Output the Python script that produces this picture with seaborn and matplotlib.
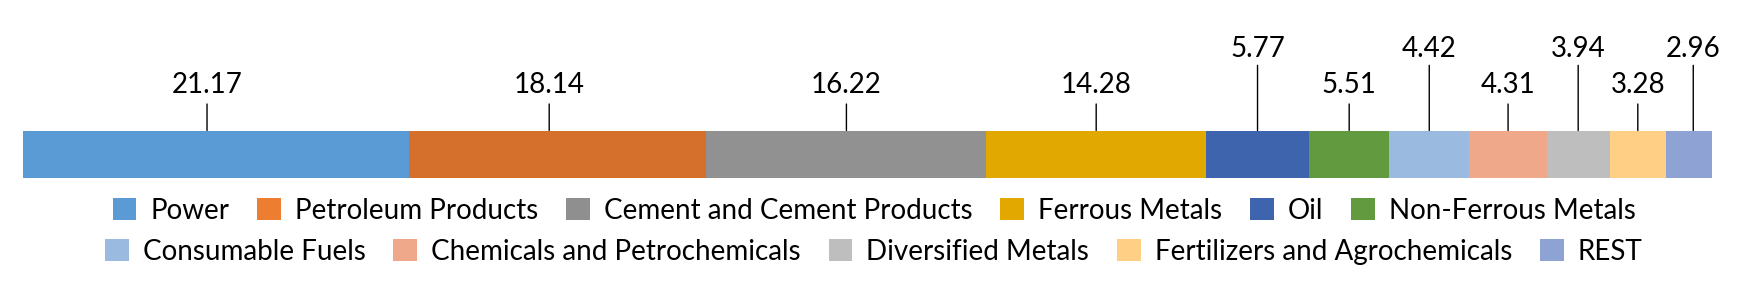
import matplotlib
matplotlib.use("Agg")
import matplotlib.pyplot as plt
from matplotlib.patches import Patch
import numpy as np
import pandas as pd
import seaborn as sns

# ---------------- data ----------------
sectors = ["Power", "Petroleum Products", "Cement and Cement Products", "Ferrous Metals",
           "Oil", "Non-Ferrous Metals", "Consumable Fuels", "Chemicals and Petrochemicals",
           "Diversified Metals", "Fertilizers and Agrochemicals", "REST"]
# printed values above the bar
label_values = [21.17, 18.14, 16.22, 14.28, 5.77, 5.51, 4.42, 4.31, 3.94, 3.28, 2.96]
# segment widths as drawn in the reference bar (share of the full bar, %)
bar_share = [22.85, 17.60, 16.58, 12.99, 6.11, 4.74, 4.74, 4.59, 3.71, 3.35, 2.74]
bar_colors = ["#5B9BD5", "#D46F2C", "#919191", "#E0A800", "#3D64AD", "#629A3F",
              "#9BBAE0", "#F0A88B", "#BEBEBE", "#FFCF85", "#8FA2D4"]
legend_colors = ["#5B9BD5", "#ED7D31", "#8F8F8F", "#E2A800", "#3D64AD", "#629A3F",
                 "#9BBAE0", "#F0A88B", "#BEBEBE", "#FFCF85", "#8FA2D4"]

# ---------------- style ----------------
sns.set_theme(style="white")
plt.rcParams["font.family"] = ["Lato", "DejaVu Sans"]
plt.rcParams["text.color"] = "#000000"
FS = 20

W, H = 1754, 295
fig = plt.figure(figsize=(W / 100, H / 100), dpi=100)
bar_left, bar_right, bar_top, bar_bottom = 23, 1712.4, 130.5, 177.7
ax = fig.add_axes([bar_left / W, 1 - bar_bottom / H,
                   (bar_right - bar_left) / W, (bar_bottom - bar_top) / H])

cum_end = np.cumsum(bar_share)
cum_start = cum_end - np.array(bar_share)
df = pd.DataFrame({"sector": sectors, "end": cum_end, "row": ["all"] * len(sectors)})

# stacked bar: overlay cumulative bars, longest first
order = sectors[::-1]
pal = dict(zip(sectors, bar_colors))
sns.barplot(data=df, x="end", y="row", hue="sector", hue_order=order, palette=pal,
            dodge=False, orient="h", width=1.0, saturation=1, errorbar=None,
            linewidth=0, legend=False, ax=ax)
ax.set_xlim(0, cum_end[-1])
ax.set_ylim(0.5, -0.5)
ax.axis("off")

# leader lines and value labels (small manual nudge, in px, as in the reference)
px2pt = 0.72
units_per_px = cum_end[-1] / (bar_right - bar_left)
nudge_px = [-9, -8.5, 0, 0, 0, 0, 0, 0, 0, 0, 4]
trans = ax.get_xaxis_transform()
for i, v in enumerate(label_values):
    xc = (cum_start[i] + cum_end[i]) / 2 + nudge_px[i] * units_per_px
    high = i >= 4 and (i - 4) % 2 == 0
    line_len = 65.2 if high else 26.5
    text_off = 73.8 if high else 37.2
    ax.annotate("", xy=(xc, 1), xycoords=trans, xytext=(0, line_len * px2pt),
                textcoords="offset points",
                arrowprops=dict(arrowstyle="-", lw=1.0, color="black",
                                shrinkA=0, shrinkB=0), annotation_clip=False)
    ax.annotate(f"{v:.2f}", xy=(xc, 1), xycoords=trans, xytext=(0, text_off * px2pt),
                textcoords="offset points", ha="center", va="baseline",
                fontsize=FS, color="black", annotation_clip=False)

# legend: two centred rows
handles = [Patch(facecolor=c, edgecolor="none") for c in legend_colors]
common = dict(frameon=False, fontsize=FS, handlelength=0.86, handleheight=0.84,
              handletextpad=0.5, columnspacing=1.0, borderpad=0, borderaxespad=0,
              loc="center", labelcolor="black")
fig.legend(handles[:6], sectors[:6], ncol=6, bbox_to_anchor=(0.4983, 1 - 211 / H), **common)
fig.legend(handles[6:], sectors[6:], ncol=5, bbox_to_anchor=(0.4981, 1 - 251.7 / H), **common)

fig.savefig("out.png", dpi=100)
